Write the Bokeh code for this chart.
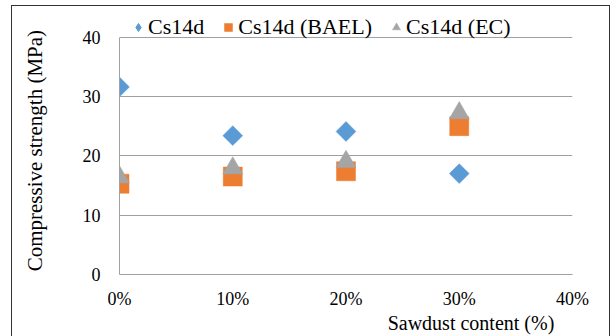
import numpy as np
from bokeh.plotting import figure
from bokeh.models import (Range1d, FixedTicker, NumeralTickFormatter, Legend, LegendItem,
                          ColumnDataSource)
from bokeh.embed import file_html
from bokeh.resources import INLINE

# data
sawdust = [0.0, 0.1, 0.2, 0.3]
cs14d = [31.6, 23.4, 24.1, 17.0]
cs14d_bael = [15.3, 16.5, 17.4, 25.0]
cs14d_ec = [16.4, 17.9, 19.0, 27.2]
x_ticks = [0.0, 0.1, 0.2, 0.3, 0.4]
y_ticks = [0, 10, 20, 30, 40]
series_names = ["Cs14d", "Cs14d (BAEL)", "Cs14d (EC)"]
x_title = "Sawdust content (%)"
y_title = "Compressive strength (MPa)"

FONT = "Liberation Serif"
BLUE, ORANGE, GRAY = "#5B9BD5", "#ED7D31", "#A5A5A5"
LINE = "#A0A0A0"
NB = "\u00a0"

src = ColumnDataSource(dict(x=sawdust, a=cs14d, b=cs14d_bael, c=cs14d_ec))

# frame extends above the top gridline so that the legend sits inside it
p = figure(width=616, height=336, output_backend="svg", toolbar_location=None, title=None,
           x_range=Range1d(0, 0.4), y_range=Range1d(0, 46.17),
           min_border_left=119, min_border_right=44, min_border_top=0, min_border_bottom=59)
p.outline_line_color = None
p.background_fill_color = "white"
p.border_fill_color = "white"
p.stylesheets = [":host { position: relative; } "
                 ":host::after { content: ''; position: absolute; left: 11px; top: 5px; "
                 "width: 599px; height: 345px; border: 1.3px solid #333333; "
                 "pointer-events: none; box-sizing: border-box; }"]

# axes
for ax in (p.xaxis[0], p.yaxis[0]):
    ax.axis_line_color = LINE
    ax.axis_line_width = 1
    ax.major_tick_line_color = None
    ax.minor_tick_line_color = None
    ax.major_tick_out = 0
    ax.major_tick_in = 0
    ax.major_label_text_font = FONT
    ax.major_label_text_font_size = "18px"
    ax.major_label_text_color = "black"
    ax.axis_label_text_font = FONT
    ax.axis_label_text_font_style = "normal"
    ax.axis_label_text_color = "black"
p.xaxis.axis_label_text_font_size = "20px"
p.yaxis.axis_label_text_font_size = "21px"
p.xaxis.ticker = FixedTicker(ticks=x_ticks)
p.xaxis.formatter = NumeralTickFormatter(format="0%")
p.yaxis.ticker = FixedTicker(ticks=y_ticks)
p.yaxis.bounds = (y_ticks[0], y_ticks[-1])
p.yaxis.major_label_standoff = 19
p.xaxis.major_label_standoff = 14

p.xaxis.axis_label = NB * 50 + x_title
p.xaxis.axis_label_standoff = 0
p.yaxis.axis_label = y_title + NB * 5
p.yaxis.axis_label_standoff = 33

p.xgrid.grid_line_color = None
p.ygrid.grid_line_color = LINE
p.ygrid.grid_line_width = 1

# glyphs
r_a = p.scatter("x", "a", source=src, marker="square", angle=np.pi / 4, size=14,
                fill_color=BLUE, line_color=BLUE, line_width=0.5)
r_a_leg = p.scatter("x", "a", source=src, marker="diamond", size=0,
                    fill_color=BLUE, line_color=BLUE)
r_b = p.scatter("x", "b", source=src, marker="square", size=19,
                fill_color=ORANGE, line_color=ORANGE, line_width=0.5)
r_c = p.scatter("x", "c", source=src, marker="triangle", size=20,
                fill_color=GRAY, line_color=GRAY, line_width=0.5)

legend = Legend(items=[LegendItem(label=series_names[0], renderers=[r_a_leg]),
                       LegendItem(label=series_names[1], renderers=[r_b]),
                       LegendItem(label=series_names[2], renderers=[r_c])],
                location=(9, 234), orientation="horizontal",
                glyph_width=20, glyph_height=20, label_standoff=0, spacing=14,
                padding=0, margin=0, label_height=20,
                label_text_font=FONT, label_text_font_size="22px", label_text_color="black",
                border_line_color=None, background_fill_alpha=0)
p.add_layout(legend, "center")

open("out.html", "w").write(file_html(p, INLINE))
